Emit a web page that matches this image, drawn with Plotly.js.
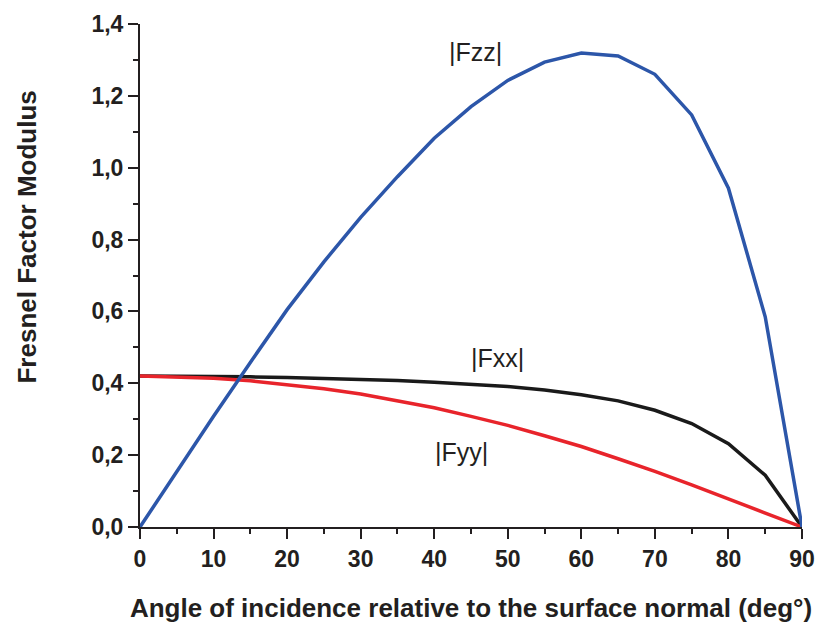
<!DOCTYPE html>
<html>
<head>
<meta charset="utf-8">
<script src="https://cdn.plot.ly/plotly-3.0.1.min.js"></script>
<style>html,body{margin:0;padding:0;background:#fff;}#chart{width:817px;height:626px;}</style>
</head>
<body>
<div id="chart"></div>
<script>
const angles = [0,5,10,15,20,25,30,35,40,45,50,55,60,65,70,75,80,85,90];
const fzz = [0,0.155,0.308,0.458,0.605,0.738,0.862,0.975,1.082,1.170,1.243,1.294,1.319,1.311,1.260,1.147,0.943,0.585,0];
const fxx = [0.420,0.420,0.419,0.418,0.416,0.414,0.411,0.408,0.403,0.398,0.391,0.381,0.368,0.351,0.325,0.288,0.232,0.144,0];
const fyy = [0.420,0.418,0.414,0.407,0.397,0.385,0.370,0.352,0.332,0.308,0.283,0.254,0.224,0.190,0.155,0.117,0.078,0.039,0];
const labels = ["|Fzz|","|Fxx|","|Fyy|"];
const labelPos = [[45.6,1.322],[48.6,0.47],[43.7,0.21]];
const yTitle = "Fresnel Factor Modulus";
const xTitle = "Angle of incidence relative to the surface normal (deg°)";

const dark = "#231f20";
const fam = "Liberation Sans, Arial, sans-serif";
const traces = [
  {x: angles, y: fxx, mode: "lines", line: {color: "#1a1a1a", width: 3.5}, name: "|Fxx|"},
  {x: angles, y: fyy, mode: "lines", line: {color: "#e8242b", width: 3.5}, name: "|Fyy|"},
  {x: angles, y: fzz, mode: "lines", line: {color: "#2c56a9", width: 3.5}, name: "|Fzz|"}
];

const annos = labels.map((t, i) => ({
  x: labelPos[i][0], y: labelPos[i][1], text: t, showarrow: false,
  font: {size: 25, color: dark, family: fam}
}));
annos.push({
  xref: "paper", yref: "paper", x: -0.1707, y: 0.5775, text: "<b>" + yTitle + "</b>",
  textangle: -90, showarrow: false, xanchor: "center", yanchor: "middle",
  font: {size: 26, color: dark, family: fam}
});

const layout = {
  width: 817, height: 626,
  margin: {l: 140, r: 15, t: 24, b: 99},
  paper_bgcolor: "#fff", plot_bgcolor: "#fff",
  showlegend: false,
  separators: ",.",
  font: {family: fam, color: dark},
  xaxis: {
    range: [0, 90], dtick: 10, tick0: 0,
    showgrid: false, zeroline: false,
    showline: true, linecolor: dark, linewidth: 2,
    ticks: "outside", ticklen: 10, tickwidth: 2, tickcolor: dark,
    minor: {dtick: 5, ticks: "outside", ticklen: 5, tickwidth: 2, tickcolor: dark, showgrid: false},
    tickfont: {size: 23, family: fam, weight: "bold", color: dark},
    title: {text: "<b>" + xTitle + "</b>", font: {size: 26, color: dark, family: fam}, standoff: 28}
  },
  yaxis: {
    range: [0, 1.4], dtick: 0.2, tick0: 0, tickformat: ".1f",
    showgrid: false, zeroline: false,
    showline: true, linecolor: dark, linewidth: 2,
    ticks: "outside", ticklen: 10, tickwidth: 2, tickcolor: dark,
    minor: {dtick: 0.1, ticks: "outside", ticklen: 5, tickwidth: 2, tickcolor: dark, showgrid: false},
    tickfont: {size: 23, family: fam, weight: "bold", color: dark}
  },
  annotations: annos
};

Plotly.newPlot("chart", traces, layout, {displayModeBar: false, staticPlot: true});
</script>
</body>
</html>
